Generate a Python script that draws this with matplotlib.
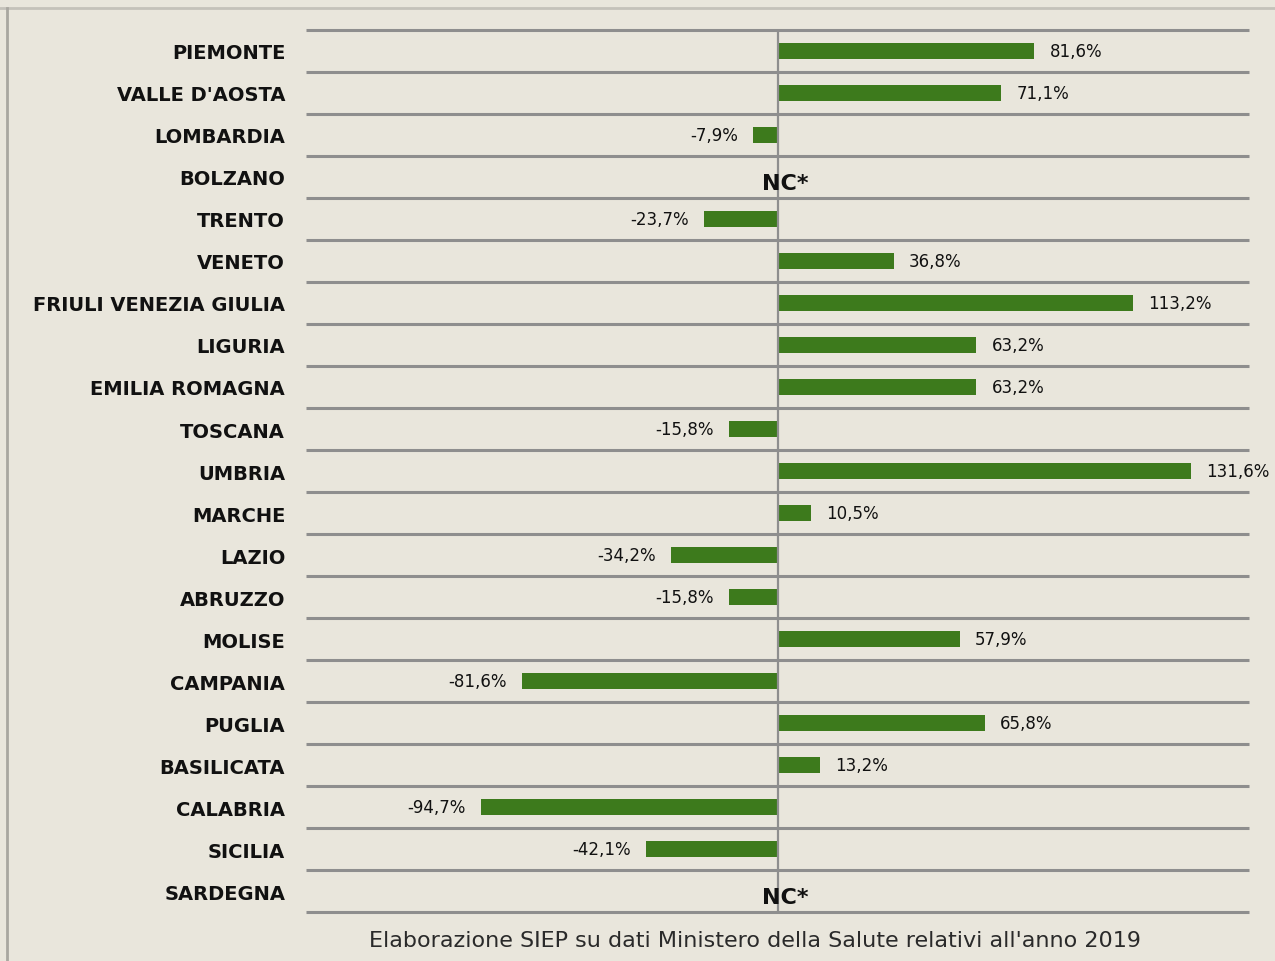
import numpy as np
import matplotlib
matplotlib.use("Agg")
import matplotlib.pyplot as plt
from matplotlib.lines import Line2D

# Dati: variazione percentuale per regione (None = NC*)
regioni = [
    "PIEMONTE", "VALLE D'AOSTA", "LOMBARDIA", "BOLZANO", "TRENTO", "VENETO",
    "FRIULI VENEZIA GIULIA", "LIGURIA", "EMILIA ROMAGNA", "TOSCANA", "UMBRIA",
    "MARCHE", "LAZIO", "ABRUZZO", "MOLISE", "CAMPANIA", "PUGLIA",
    "BASILICATA", "CALABRIA", "SICILIA", "SARDEGNA",
]
variazioni = [
    81.6, 71.1, -7.9, None, -23.7, 36.8, 113.2, 63.2, 63.2, -15.8, 131.6,
    10.5, -34.2, -15.8, 57.9, -81.6, 65.8, 13.2, -94.7, -42.1, None,
]
nota = "Elaborazione SIEP su dati Ministero della Salute relativi all'anno 2019"

sfondo = "#e9e6dc"
verde = "#3d7a1c"
grigio = "#8e8e8e"

fig = plt.figure(figsize=(12.75, 9.62), dpi=100, facecolor=sfondo)
ax = fig.add_axes([0.24, 0.0509, 0.7396, 0.9169], facecolor=sfondo)

pos = np.arange(len(regioni))
valori = np.array([np.nan if v is None else v for v in variazioni])
ax.barh(pos, np.nan_to_num(valori), height=0.38, color=verde, zorder=2)

# etichette dei valori
for i, v in enumerate(variazioni):
    if v is None:
        ax.annotate("NC*", (0, i), xytext=(5, -4), textcoords="offset points",
                    ha="center", va="center", fontsize=16, fontweight="bold",
                    color="#111111", zorder=4)
        continue
    testo = f"{v:.1f}%".replace(".", ",")
    if v >= 0:
        ax.annotate(testo, (v, i), xytext=(11, 0), textcoords="offset points",
                    ha="left", va="center", fontsize=12, color="#111111")
    else:
        ax.annotate(testo, (v, i), xytext=(-11, 0), textcoords="offset points",
                    ha="right", va="center", fontsize=12, color="#111111")

ax.set_xlim(-150.5, 150.1)
ax.set_ylim(len(regioni) - 0.5, -0.5)
ax.axvline(0, color=grigio, lw=1.6, zorder=3)

# linee orizzontali tra le righe
ax.hlines(np.arange(len(regioni) + 1) - 0.5, -150.5, 150.1, color=grigio,
          lw=2.2, zorder=1, clip_on=False)

ax.set_yticks(pos)
ax.set_yticklabels(regioni, fontsize=14, fontweight="bold", color="#111111")
ax.tick_params(axis="y", length=0, pad=15)
ax.set_xticks([])
for s in ax.spines.values():
    s.set_visible(False)

# bordo della cornice
fig.add_artist(Line2D([0, 1], [1 - 9 / 962, 1 - 9 / 962], color="#c4c2ba", lw=2))
fig.add_artist(Line2D([7 / 1275, 7 / 1275], [0, 1 - 9 / 962], color="#a9a7a0", lw=2))

fig.text(0.592, 1 - 941 / 962, nota, ha="center", va="center", fontsize=16,
         color="#2a2a2a")

fig.savefig("out.png", dpi=100, facecolor=sfondo)
